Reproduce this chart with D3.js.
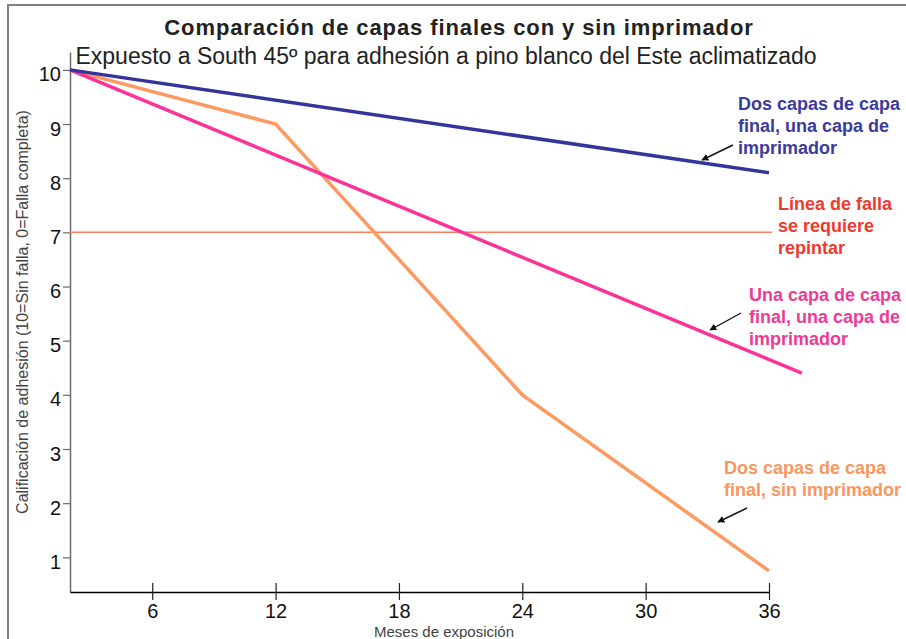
<!DOCTYPE html>
<html lang="es">
<head>
<meta charset="UTF-8">
<title>Comparación de capas finales con y sin imprimador</title>
<script src="https://d3js.org/d3.v7.min.js"></script>
<style>
  body { margin: 0; background: #fff; }
  svg { display: block; font-family: "Liberation Sans", Arial, Helvetica, sans-serif; }
</style>
</head>
<body>
<div id="chart"></div>
<script>
// data (months of exposure, adhesion rating)
const blueMonths = [2, 36];
const blueScores = [10, 8.1];
const pinkMonths = [2, 37.6];
const pinkScores = [10, 4.4];
const orangeMonths = [2, 12, 24, 36];
const orangeScores = [10, 9, 4, 0.75];
const failureScore = 7;

const xTicks = [6, 12, 18, 24, 30, 36];
const yTicks = [1, 2, 3, 4, 5, 6, 7, 8, 9, 10];

const titleText = "Comparación de capas finales con y sin imprimador";
const subtitleText = "Expuesto a South 45º para adhesión a pino blanco del Este aclimatizado";
const xLabel = "Meses de exposición";
const yLabel = "Calificación de adhesión (10=Sin falla, 0=Falla completa)";

const blueLabel = ["Dos capas de capa", "final, una capa de", "imprimador"];
const failLabel = ["Línea de falla", "se requiere", "repintar"];
const pinkLabel = ["Una capa de capa", "final, una capa de", "imprimador"];
const orangeLabel = ["Dos capas de capa", "final, sin imprimador"];

const w = 906, h = 639;

const svg = d3.select("#chart").append("svg")
    .attr("width", w)
    .attr("height", h);

// frame
svg.append("path")
    .attr("d", "M8," + h + "V5H" + w)
    .attr("fill", "none")
    .attr("stroke", "#808080")
    .attr("stroke-width", 2);

const x = d3.scaleLinear().domain([2, 36]).range([70, 769]);
const y = d3.scaleLinear().domain([0.36, 10.33]).range([592, 52]);

// titles
svg.append("text")
    .attr("x", 459).attr("y", 35)
    .attr("text-anchor", "middle")
    .attr("font-size", 22).attr("font-weight", "bold")
    .attr("letter-spacing", 0.9)
    .attr("fill", "#222")
    .text(titleText);

svg.append("text")
    .attr("x", 446).attr("y", 64)
    .attr("text-anchor", "middle")
    .attr("font-size", 23)
    .attr("fill", "#222")
    .text(subtitleText);

// axes
const yAxis = d3.axisLeft(y).tickValues(yTicks).tickSizeInner(7).tickSizeOuter(0).tickPadding(2);
const gy = svg.append("g").attr("transform", "translate(70,0)").call(yAxis);
gy.select(".domain").attr("stroke", "#6b6b6b").attr("stroke-width", 1.5);
gy.selectAll(".tick line").attr("stroke", "#6b6b6b").attr("stroke-width", 1.2);
gy.selectAll(".tick text")
    .attr("font-size", 20)
    .attr("font-family", "Liberation Sans, Arial, sans-serif")
    .attr("fill", "#111")
    .attr("dy", "0.55em");

const xAxis = d3.axisBottom(x).tickValues(xTicks).tickSizeInner(8).tickSizeOuter(0).tickPadding(4);
const gx = svg.append("g").attr("transform", "translate(0,592)").call(xAxis);
gx.select(".domain").attr("stroke", "#000").attr("stroke-width", 1.3);
gx.selectAll(".tick line").attr("y1", -9).attr("y2", 8).attr("stroke", "#222").attr("stroke-width", 1.2);
gx.selectAll(".tick text")
    .attr("font-size", 20)
    .attr("font-family", "Liberation Sans, Arial, sans-serif")
    .attr("fill", "#111");

svg.append("text")
    .attr("x", 444).attr("y", 636.5)
    .attr("text-anchor", "middle")
    .attr("font-size", 15)
    .attr("fill", "#444")
    .text(xLabel);

svg.append("text")
    .attr("transform", "translate(28,312) rotate(-90)")
    .attr("text-anchor", "middle")
    .attr("font-size", 16)
    .attr("fill", "#444")
    .text(yLabel);

// failure line
svg.append("line")
    .attr("x1", x(2)).attr("x2", x(36) + 3)
    .attr("y1", y(failureScore)).attr("y2", y(failureScore))
    .attr("stroke", "#fa7f5e")
    .attr("stroke-width", 1.5);

// series
const series = [
    {months: orangeMonths, scores: orangeScores, color: "#fd9a62"},
    {months: pinkMonths, scores: pinkScores, color: "#fb3399"},
    {months: blueMonths, scores: blueScores, color: "#34359a"}
];

const line = d3.line()
    .x(function(d){ return x(d[0]); })
    .y(function(d){ return y(d[1]); });

series.forEach(function(s){
    svg.append("path")
        .datum(d3.zip(s.months, s.scores))
        .attr("d", line)
        .attr("fill", "none")
        .attr("stroke", s.color)
        .attr("stroke-width", 3.5)
        .attr("stroke-linejoin", "miter");
});

// arrow marker
svg.append("defs").append("marker")
    .attr("id", "arrow")
    .attr("viewBox", "0 0 10 10")
    .attr("refX", 9).attr("refY", 5)
    .attr("markerWidth", 7).attr("markerHeight", 7)
    .attr("markerUnits", "userSpaceOnUse")
    .attr("orient", "auto")
    .append("path")
    .attr("d", "M0,0L10,5L0,10z")
    .attr("fill", "#111");

// annotations
function label(lines, lx, ly, color){
    const t = svg.append("text")
        .attr("x", lx).attr("y", ly)
        .attr("font-size", 18).attr("font-weight", "bold")
        .attr("fill", color);
    lines.forEach(function(l, i){
        t.append("tspan").attr("x", lx).attr("dy", i === 0 ? 0 : 22).text(l);
    });
}
function arrow(x1, y1, x2, y2){
    svg.append("line")
        .attr("x1", x1).attr("y1", y1)
        .attr("x2", x2).attr("y2", y2)
        .attr("stroke", "#111")
        .attr("stroke-width", 1.4)
        .attr("marker-end", "url(#arrow)");
}

label(blueLabel, 738, 110, "#3b3b9b");
arrow(733, 145, 702, 160);

label(failLabel, 778, 210, "#ee3a2e");

label(pinkLabel, 749, 301, "#ee3a96");
arrow(741, 313, 710, 330);

label(orangeLabel, 724, 474, "#f7975f");
arrow(747, 508, 718, 522);
</script>
</body>
</html>
